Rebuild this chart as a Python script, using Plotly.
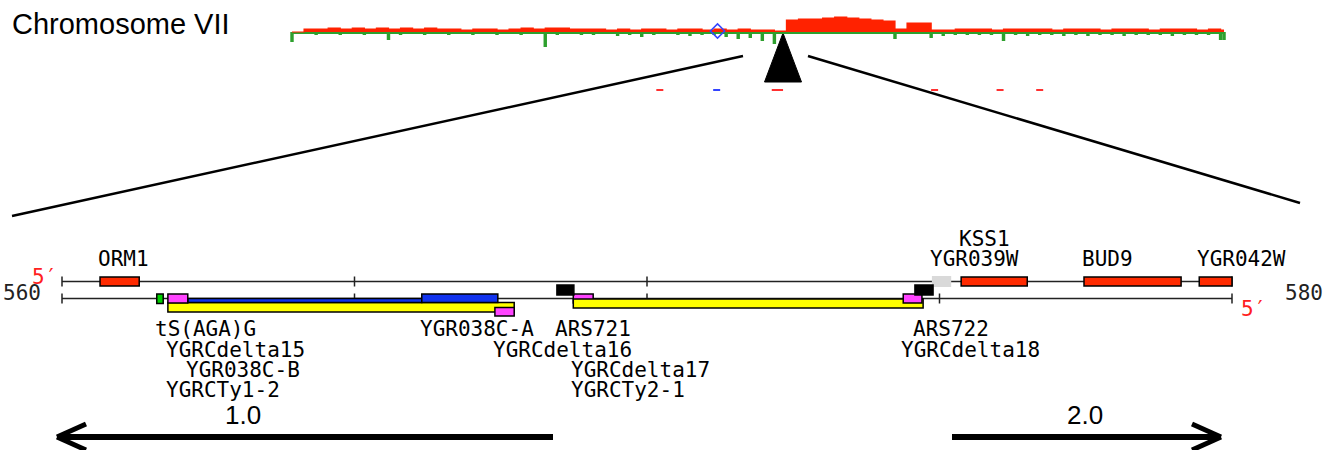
import plotly.graph_objects as go

# ======================= DATA =======================
# --- Chromosome VII overview profile (position in kb, signal above/below baseline) ---
profile_kb = [0, 14, 28, 42, 56, 70, 84, 98, 112, 126, 140, 154, 168, 182, 196, 210,
              224, 238, 252, 266, 280, 294, 308, 322, 336, 350, 364, 378, 392, 406, 420,
              434, 448, 462, 476, 490, 504, 518, 532, 546, 560, 574, 588, 602, 616, 630,
              644, 658, 672, 686, 700, 714, 728, 742, 756, 770, 784, 798, 812, 826, 840,
              854, 868, 882, 896, 910, 924, 938, 952, 966, 980, 994, 1008, 1022, 1036,
              1050, 1064, 1078, 1082]
red_level = [0, 3, 3, 4, 3, 4, 3, 4, 3, 4,
             3, 4, 3, 3, 2, 3, 3, 2, 3, 4,
             3, 4, 4, 3, 3, 3, 2, 3, 2, 3,
             3, 2, 3, 3, 2, 3, 2, 3, 2, 2,
             1, 12, 13, 13, 14, 15, 14, 13, 12, 11,
             3, 9, 9, 2, 2, 3, 3, 3, 2, 3,
             3, 3, 3, 2, 3, 3, 3, 2, 3, 3,
             3, 2, 3, 3, 3, 2, 3, 2,
             2]
green_level = [-10, -2, -3, -2, -3, -2, -3, -2, -8, -3,
               -2, -3, -2, -3, -2, -3, -2, -3, -2, -3,
               -2, -15, -3, -2, -3, -3, -2, -4, -3, -5,
               -3, -2, -3, -4, -3, -3, -5, -7, -6, -9,
               -12, 0, 0, 0, 0, 0, 0, 0, 0, 0,
               -7, 0, 0, -6, -4, -3, -3, -3, -3, -9,
               -3, -4, -3, -3, -4, -3, -4, -3, -3, -4,
               -3, -3, -3, -4, -3, -3, -3, -8,
               -8]
marker_kb = [494]                      # open blue diamond on the profile
event_kb = [427, 493, 561, 566, 746, 822, 868]
event_type = ["red", "blue", "red", "red", "red", "red", "red"]
zoom_center_kb = 570                   # centre of the zoomed window

# --- Zoomed region 560-580 kb ---
map_start, map_end = 560, 580
tick_kb = [565, 570, 575]

top_names = ["ORM1", "YGR039W", "KSS1", "BUD9", "YGR042W"]
top_type = ["orf", "dubious", "orf", "orf", "orf"]
top_start = [560.65, 574.87, 575.37, 577.47, 579.44]
top_end = [561.32, 575.20, 576.50, 579.13, 580.00]

bot_names = ["YGRCTy1-2", "YGRCdelta16", "YGR038C-B", "YGR038C-A", "tS(AGA)G",
             "YGRCdelta15", "YGRCdelta17", "YGRCTy2-1", "YGRCdelta18", "ARS721", "ARS722"]
bot_type = ["transposon", "ltr", "ty_orf_thin", "ty_orf", "trna",
            "ltr", "ltr", "transposon", "ltr", "ars", "ars"]
bot_start = [561.81, 567.40, 562.15, 566.15, 561.62,
             561.81, 568.74, 568.74, 574.38, 568.46, 574.58]
bot_end = [567.73, 567.73, 566.15, 567.45, 561.73,
           562.15, 569.08, 574.72, 574.70, 568.75, 574.89]

scale_left_label, scale_right_label = "1.0", "2.0"

# ======================= STYLE / LAYOUT =======================
W, H = 1324, 450
PX_PER_KB = 58.5           # gene map scale
MAP_X0 = 62                # pixel of 560 kb
CHR_X0, CHR_PX_PER_KB = 292, 0.8614

type_color = {"orf": "#ff2a00", "dubious": "#d9d9d9", "trna": "#00d000",
              "ltr": "#ff44ff", "ty_orf": "#1133ee", "ty_orf_thin": "#1133ee",
              "transposon": "#ffff00", "ars": "#000000"}
# pixel rows (y0, y1) for each feature
row_y = {"YGRCTy1-2": (302.5, 312), "YGRCdelta16": (307.5, 316), "YGR038C-B": (298.5, 302.5),
         "YGR038C-A": (294, 302.5), "tS(AGA)G": (294, 303.5), "YGRCdelta15": (294, 303),
         "YGRCdelta17": (294, 303), "YGRCTy2-1": (299, 308), "YGRCdelta18": (294, 303),
         "ARS721": (285, 295), "ARS722": (285, 295)}
top_row = {"orf": (277, 286), "dubious": (276, 287)}
TOP_Y, BOT_Y = 281.5, 298.5
label_y = {"t0": 239, "t1": 259, "b1": 329, "b2": 350, "b3": 370, "b4": 390}
label_row = {"ORM1": "t1", "YGR039W": "t1", "KSS1": "t0", "BUD9": "t1", "YGR042W": "t1",
             "tS(AGA)G": "b1", "YGRCdelta15": "b2", "YGR038C-B": "b3", "YGRCTy1-2": "b4",
             "YGR038C-A": "b1", "ARS721": "b1", "YGRCdelta16": "b2", "YGRCdelta17": "b3",
             "YGRCTy2-1": "b4", "ARS722": "b1", "YGRCdelta18": "b2"}
MONO = "DejaVu Sans Mono"
SANS = "Liberation Sans, Arial, sans-serif"
LABEL_SIZE = 21

fig = go.Figure()

# ---------- chromosome profile ----------
fig.add_trace(go.Scatter(x=[profile_kb[0], profile_kb[-1]], y=[-1, -1], xaxis="x2", yaxis="y2",
                         mode="lines", line=dict(color="#2ea02e", width=2), hoverinfo="skip"))
fig.add_trace(go.Bar(x=profile_kb, y=green_level, width=4, xaxis="x2", yaxis="y2",
                     marker=dict(color="#2ea02e", line=dict(width=0)), hoverinfo="skip"))
fig.add_trace(go.Scatter(x=profile_kb, y=red_level, xaxis="x2", yaxis="y2", mode="lines",
                         line=dict(color="#ff2200", width=1.2, shape="hv"), fill="tozeroy",
                         fillcolor="#ff2200", hoverinfo="skip"))
fig.add_trace(go.Scatter(x=marker_kb, y=[1], xaxis="x2", yaxis="y2", mode="markers",
                         marker=dict(symbol="diamond-open", size=11, color="#3344ff",
                                     line=dict(width=1.5, color="#3344ff")), hoverinfo="skip"))
fig.add_trace(go.Scatter(x=event_kb, y=[90] * len(event_kb), xaxis="x2", yaxis="y",
                         mode="markers",
                         marker=dict(symbol="line-ew", size=5,
                                     line=dict(width=2, color=["#ff3030" if t == "red" else "#3344ff"
                                                               for t in event_type])),
                         hoverinfo="skip"))
# triangle pointing at the zoomed window
half_w = 18.5 / CHR_PX_PER_KB
fig.add_trace(go.Scatter(x=[zoom_center_kb, zoom_center_kb - half_w, zoom_center_kb + half_w,
                            zoom_center_kb],
                         y=[33, 82, 82, 33], xaxis="x2", yaxis="y", mode="lines",
                         fill="toself", fillcolor="black", line=dict(color="black", width=1),
                         hoverinfo="skip"))

shapes = []
# connector lines (pixel overlay axis x3)
shapes.append(dict(type="line", xref="x3", yref="y", x0=743, y0=56, x1=12, y1=216,
                   line=dict(color="black", width=2.5)))
shapes.append(dict(type="line", xref="x3", yref="y", x0=808, y0=56, x1=1300, y1=203,
                   line=dict(color="black", width=2.5)))

# ---------- gene map strands & ticks ----------
strand_line = dict(color="#222222", width=1.5)
for yy in (TOP_Y, BOT_Y):
    shapes.append(dict(type="line", xref="x", yref="y", x0=map_start, x1=map_end,
                       y0=yy, y1=yy, line=strand_line))
    for t in [map_start] + tick_kb + [map_end]:
        shapes.append(dict(type="line", xref="x", yref="y", x0=t, x1=t,
                           y0=yy - 5, y1=yy + 5, line=strand_line))

# top-strand features
for n, tp, s, e in zip(top_names, top_type, top_start, top_end):
    y0, y1 = top_row[tp]
    shapes.append(dict(type="rect", xref="x", yref="y", x0=s, x1=e, y0=y0, y1=y1,
                       fillcolor=type_color[tp],
                       line=dict(color="#d0d0d0" if tp == "dubious" else "black",
                                 width=0 if tp == "dubious" else 1.5)))
# bottom-strand features
for n, tp, s, e in zip(bot_names, bot_type, bot_start, bot_end):
    y0, y1 = row_y[n]
    shapes.append(dict(type="rect", xref="x", yref="y", x0=s, x1=e, y0=y0, y1=y1,
                       fillcolor=type_color[tp], line=dict(color="black", width=1.5)))

# ---------- bottom scale arrows (pixel overlay) ----------
arrow_line = dict(color="black", width=6)
head_line = dict(color="black", width=5)
shapes += [
    dict(type="line", xref="x3", yref="y", x0=553, x1=60, y0=437, y1=437, line=arrow_line),
    dict(type="line", xref="x3", yref="y", x0=57, x1=86, y0=437, y1=424, line=head_line),
    dict(type="line", xref="x3", yref="y", x0=57, x1=86, y0=437, y1=450, line=head_line),
    dict(type="line", xref="x3", yref="y", x0=952, x1=1218, y0=437, y1=437, line=arrow_line),
    dict(type="line", xref="x3", yref="y", x0=1221, x1=1192, y0=437, y1=424, line=head_line),
    dict(type="line", xref="x3", yref="y", x0=1221, x1=1192, y0=437, y1=450, line=head_line),
]

# ---------- annotations ----------
ann = []
ann.append(dict(text="Chromosome VII", xref="x3", yref="y", x=10, y=24, xanchor="left",
                yanchor="middle", showarrow=False, font=dict(family=SANS, size=29, color="black")))
feat_start = dict(zip(top_names, top_start))
feat_start.update(dict(zip(bot_names, bot_start)))
for name, row in label_row.items():
    ann.append(dict(text=name, xref="x", yref="y", x=feat_start[name], y=label_y[row],
                    xanchor="left", yanchor="middle", xshift=-3, showarrow=False, borderpad=0,
                    font=dict(family=MONO, size=LABEL_SIZE, color="black")))
ann.append(dict(text=str(map_start), xref="x", yref="y", x=map_start, y=293, xanchor="right",
                yanchor="middle", xshift=-19, showarrow=False,
                font=dict(family=MONO, size=21, color="#222222")))
ann.append(dict(text="5′", xref="x", yref="y", x=map_start, y=277, xanchor="right",
                yanchor="middle", xshift=-3, showarrow=False,
                font=dict(family=MONO, size=21, color="#ff2020")))
ann.append(dict(text=str(map_end), xref="x", yref="y", x=map_end, y=293, xanchor="left",
                yanchor="middle", xshift=51, showarrow=False,
                font=dict(family=MONO, size=21, color="#222222")))
ann.append(dict(text="5′", xref="x", yref="y", x=map_end, y=309, xanchor="left",
                yanchor="middle", xshift=7, showarrow=False,
                font=dict(family=MONO, size=21, color="#ff2020")))
ann.append(dict(text=scale_left_label, xref="x3", yref="y", x=243, y=415, xanchor="center",
                yanchor="middle", showarrow=False, font=dict(family=SANS, size=26, color="black")))
ann.append(dict(text=scale_right_label, xref="x3", yref="y", x=1085, y=415, xanchor="center",
                yanchor="middle", showarrow=False, font=dict(family=SANS, size=26, color="black")))

# ======================= AXES =======================
x_lo = map_start - MAP_X0 / PX_PER_KB
x_hi = map_start + (W - MAP_X0) / PX_PER_KB
c_lo = -CHR_X0 / CHR_PX_PER_KB
c_hi = (W - CHR_X0) / CHR_PX_PER_KB
hidden = dict(visible=False, showgrid=False, zeroline=False, fixedrange=True)

fig.update_layout(
    width=W, height=H, autosize=False,
    margin=dict(l=0, r=0, t=0, b=0, pad=0),
    paper_bgcolor="white", plot_bgcolor="rgba(0,0,0,0)",
    showlegend=False, barmode="overlay",
    xaxis=dict(range=[x_lo, x_hi], domain=[0, 1], anchor="y", **hidden),
    yaxis=dict(range=[H, 0], domain=[0, 1], anchor="x", **hidden),
    xaxis2=dict(range=[c_lo, c_hi], domain=[0, 1], anchor="y2", overlaying="x", **hidden),
    yaxis2=dict(range=[-18, 22], domain=[1 - 50 / H, 1 - 10 / H], anchor="x2", **hidden),
    xaxis3=dict(range=[0, W], domain=[0, 1], anchor="y", overlaying="x", **hidden),
    shapes=shapes, annotations=ann,
)

fig.write_html("out.html", config={"displayModeBar": False, "staticPlot": True},
               post_script="document.body.style.margin='0';document.body.style.overflow='hidden';")
